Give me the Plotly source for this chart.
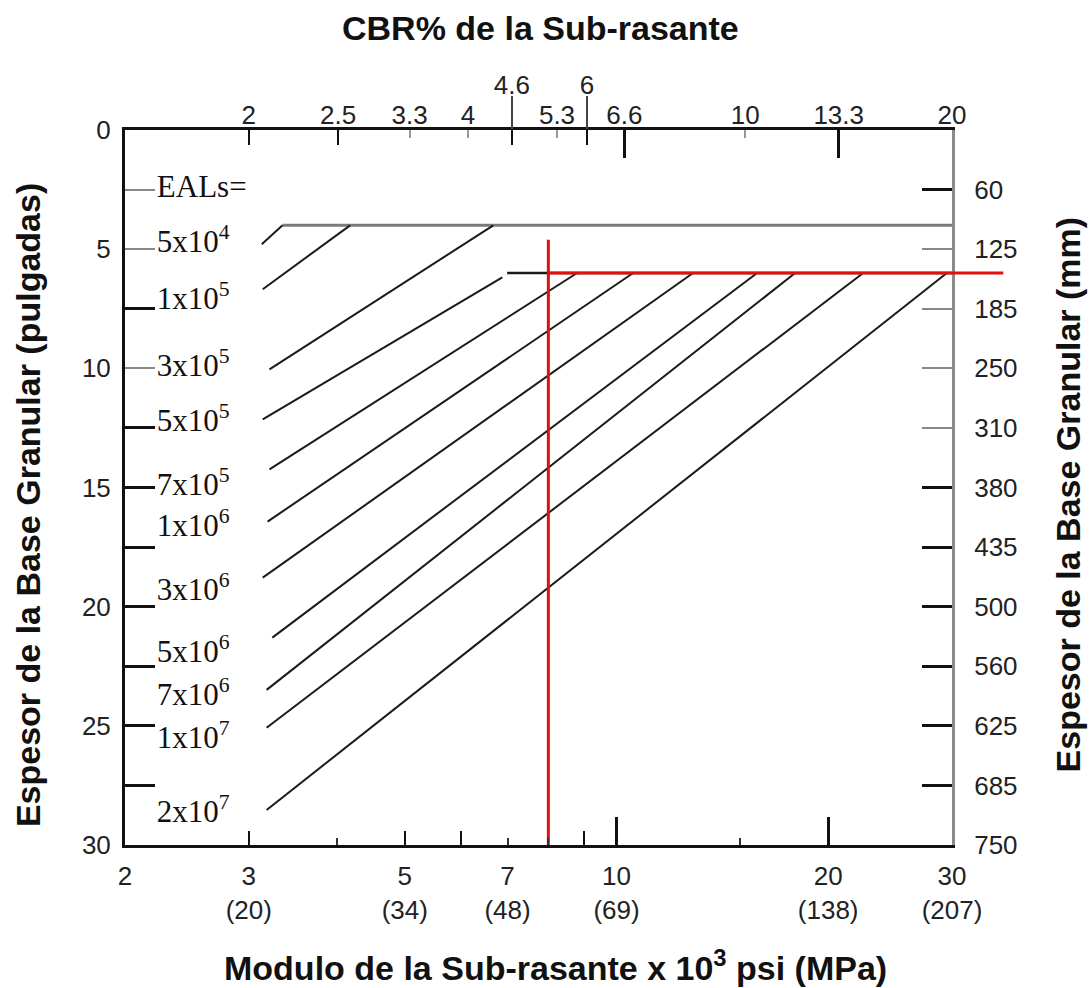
import numpy as np
import plotly.graph_objects as go

# ---------------- data ----------------
eal_labels = ["5x10<sup>4</sup>", "1x10<sup>5</sup>", "3x10<sup>5</sup>", "5x10<sup>5</sup>",
              "7x10<sup>5</sup>", "1x10<sup>6</sup>", "3x10<sup>6</sup>", "5x10<sup>6</sup>",
              "7x10<sup>6</sup>", "1x10<sup>7</sup>", "2x10<sup>7</sup>"]
eal_label_y = [4.8, 7.2, 10.0, 12.3, 15.0, 16.7, 19.4, 22.0, 23.8, 25.6, 28.7]
eal_header = "EALs="
eal_header_y = 2.5
label_x = 2.22

# line end points: subgrade modulus (x10^3 psi), base thickness (in)
line_x_start = [3.13, 3.14, 3.21, 3.14, 3.21, 3.19, 3.14, 3.24, 3.18, 3.18, 3.18]
line_y_start = [4.79, 6.68, 10.04, 12.14, 14.24, 16.43, 18.78, 21.30, 23.49, 25.08, 28.53]
line_x_end = [3.35, 4.18, 6.68, 6.88, 8.79, 10.56, 12.85, 15.85, 17.95, 22.43, 29.5]
line_y_end = [4.0, 4.0, 4.0, 6.18, 6.0, 6.0, 6.0, 6.0, 6.0, 6.0, 6.0]

# minimum-thickness caps
cap4_x = [3.35, 30]
cap4_y = [4.0, 4.0]
cap6_x = [6.99, 30]
cap6_y = [6.0, 6.0]

# design example (red)
design_mr = 8.0
design_top = 4.6
design_thk = 6.0

# bottom axis (modulus)
bottom_vals = [2, 3, 5, 7, 10, 20, 30]
bottom_text = ["2", "3<br>(20)", "5<br>(34)", "7<br>(48)", "10<br>(69)", "20<br>(138)", "30<br>(207)"]
bottom_med_ticks = [3, 5, 6, 9]
bottom_short_ticks = [4, 7, 8, 15]
bottom_long_ticks = [10, 20]

# top axis (CBR %), positions on the modulus scale
cbr_pos = [3.0, 4.02, 5.08, 6.15, 8.23, 10.26, 15.24, 20.7, 30]
cbr_text = ["2", "2.5", "3.3", "4", "5.3", "6.6", "10", "13.3", "20"]
cbr_high_pos = [7.10, 9.08]
cbr_high_text = ["4.6", "6"]
top_med_ticks = [3.0, 4.02, 7.10, 9.08]
top_short_ticks = [5.08, 6.15, 8.23, 15.24]
top_long_ticks = [10.26, 20.7]

# left axis (inches)
left_vals = [0, 5, 10, 15, 20, 25, 30]
left_text = ["0", "5", "10", "15", "20", "25", "30"]
left_black_ticks = [7.5, 12.5, 15, 17.5, 20, 22.5, 25, 27.5]
left_grey_ticks = [2.5, 5, 10]

# right axis (mm)
right_vals = [2.5, 5, 7.5, 10, 12.5, 15, 17.5, 20, 22.5, 25, 27.5, 30]
right_text = ["60", "125", "185", "250", "310", "380", "435", "500", "560", "625", "685", "750"]
right_black_ticks = [2.5, 15, 17.5, 20, 22.5, 25, 27.5]
right_grey_ticks = [5, 7.5, 10, 12.5]

# ---------------- figure ----------------
XR = [np.log10(2), np.log10(30)]
YR = [30, 0]
TICKFONT = dict(family="Liberation Sans, Arial, sans-serif", size=26, color="#222")
TITLEFONT = dict(family="Liberation Sans, Arial, sans-serif", size=34, color="#111")
SERIF = dict(family="Liberation Serif, Times New Roman, serif", size=31, color="#111")

fig = go.Figure()

fig.add_trace(go.Scatter(x=cap4_x, y=cap4_y, mode="lines",
                         line=dict(color="#7a7a7a", width=3), hoverinfo="skip", showlegend=False))
fig.add_trace(go.Scatter(x=cap6_x, y=cap6_y, mode="lines",
                         line=dict(color="#1a1a1a", width=2.5), hoverinfo="skip", showlegend=False))

for i in range(len(eal_labels)):
    fig.add_trace(go.Scatter(x=[line_x_start[i], line_x_end[i]], y=[line_y_start[i], line_y_end[i]],
                             mode="lines", line=dict(color="#1a1a1a", width=2),
                             hoverinfo="skip", showlegend=False))

fig.add_trace(go.Scatter(x=[label_x] * (len(eal_labels) + 1), y=[eal_header_y] + eal_label_y,
                         text=[eal_header] + eal_labels, mode="text", textposition="middle right",
                         textfont=SERIF, cliponaxis=False, hoverinfo="skip", showlegend=False))

# red design lines
fig.add_trace(go.Scatter(x=[design_mr, design_mr], y=[design_top, 30], mode="lines",
                         line=dict(color="#e01010", width=3), hoverinfo="skip", showlegend=False))
fig.add_trace(go.Scatter(x=[design_mr, 30], y=[design_thk, design_thk], mode="lines",
                         line=dict(color="#e01010", width=3), hoverinfo="skip", showlegend=False))
fig.add_shape(type="line", xref="paper", yref="y", x0=1.0, x1=1.062, y0=design_thk, y1=design_thk,
              line=dict(color="#e01010", width=3), layer="above")

# invisible anchor traces so that every overlaying axis is drawn
for xa, ya in [("x2", "y"), ("x3", "y"), ("x4", "y"), ("x5", "y"), ("x6", "y"), ("x7", "y"),
               ("x", "y2"), ("x", "y3"), ("x", "y4")]:
    fig.add_trace(go.Scatter(x=[2, 30], y=[0, 30], xaxis=xa, yaxis=ya, mode="markers",
                             marker=dict(opacity=0, size=1), hoverinfo="skip", showlegend=False))

base_x = dict(type="log", range=XR, showgrid=False, zeroline=False, automargin=False,
              fixedrange=True)
base_y = dict(range=YR, showgrid=False, zeroline=False, automargin=False, fixedrange=True)

fig.update_layout(
    width=1091, height=988, template="none",
    paper_bgcolor="white", plot_bgcolor="white",
    margin=dict(l=125, r=139, t=130, b=143),
    showlegend=False,
    xaxis=dict(**base_x, side="bottom", tickmode="array", tickvals=bottom_vals, ticktext=bottom_text,
               ticks="", showline=True, linecolor="#111", linewidth=3, tickfont=TICKFONT,
               ticklabelstandoff=6),
    xaxis2=dict(**base_x, overlaying="x", side="top", anchor="y", tickmode="array", tickvals=cbr_pos,
                ticktext=cbr_text, ticks="", showline=True, linecolor="#111", linewidth=3,
                tickfont=TICKFONT, ticklabelstandoff=-7),
    xaxis3=dict(**base_x, overlaying="x", side="top", anchor="y", tickmode="array",
                tickvals=top_med_ticks, ticks="inside", ticklen=15, tickwidth=2, tickcolor="#111",
                showticklabels=False, showline=False,
                minor=dict(tickmode="array", tickvals=top_short_ticks, ticks="inside", ticklen=8,
                           tickwidth=1.5, tickcolor="#999")),
    xaxis4=dict(**base_x, overlaying="x", side="top", anchor="y", tickmode="array",
                tickvals=top_long_ticks, ticks="inside", ticklen=28, tickwidth=2.5, tickcolor="#111",
                showticklabels=False, showline=False),
    xaxis5=dict(**base_x, overlaying="x", side="top", anchor="y", tickmode="array",
                tickvals=cbr_high_pos, ticktext=cbr_high_text, ticks="outside", ticklen=33,
                tickwidth=1.5, tickcolor="#444", tickfont=TICKFONT, showline=False,
                ticklabelstandoff=-8),
    xaxis6=dict(**base_x, overlaying="x", side="bottom", anchor="y", tickmode="array",
                tickvals=bottom_med_ticks, ticks="inside", ticklen=14, tickwidth=2, tickcolor="#111",
                showticklabels=False, showline=False,
                minor=dict(tickmode="array", tickvals=bottom_short_ticks, ticks="inside", ticklen=7,
                           tickwidth=2, tickcolor="#333")),
    xaxis7=dict(**base_x, overlaying="x", side="bottom", anchor="y", tickmode="array",
                tickvals=bottom_long_ticks, ticks="inside", ticklen=28, tickwidth=2.5, tickcolor="#111",
                showticklabels=False, showline=False),
    yaxis=dict(**base_y, side="left", tickmode="array", tickvals=left_vals, ticktext=left_text,
               ticks="", showline=True, linecolor="#111", linewidth=3, tickfont=TICKFONT,
               ticklabelstandoff=6),
    yaxis2=dict(**base_y, overlaying="y", side="right", anchor="x", tickmode="array",
                tickvals=right_vals, ticktext=right_text, ticks="", showline=True, linecolor="#8a8a8a",
                linewidth=3, tickfont=TICKFONT, ticklabelstandoff=14),
    yaxis3=dict(**base_y, overlaying="y", side="left", anchor="x", tickmode="array",
                tickvals=left_black_ticks, ticks="inside", ticklen=30, tickwidth=2.5, tickcolor="#111",
                showticklabels=False, showline=False,
                minor=dict(tickmode="array", tickvals=left_grey_ticks, ticks="inside", ticklen=30,
                           tickwidth=1.5, tickcolor="#888")),
    yaxis4=dict(**base_y, overlaying="y", side="right", anchor="x", tickmode="array",
                tickvals=right_black_ticks, ticks="inside", ticklen=30, tickwidth=2.5, tickcolor="#111",
                showticklabels=False, showline=False,
                minor=dict(tickmode="array", tickvals=right_grey_ticks, ticks="inside", ticklen=30,
                           tickwidth=1.5, tickcolor="#888")),
)

# axis titles
fig.add_annotation(text="<b>CBR% de la Sub-rasante</b>", xref="paper", yref="paper", x=0.502, y=1.143,
                   showarrow=False, font=TITLEFONT, xanchor="center", yanchor="middle")
fig.add_annotation(text="<b>Modulo de la Sub-rasante x 10<sup>3</sup> psi (MPa)</b>", xref="paper",
                   yref="paper", x=0.52, y=-0.168, showarrow=False, font=TITLEFONT,
                   xanchor="center", yanchor="middle")
fig.add_annotation(text="<b>Espesor de la Base Granular (pulgadas)</b>", xref="paper", yref="paper",
                   x=-0.118, y=0.476, textangle=-90, showarrow=False, font=TITLEFONT,
                   xanchor="center", yanchor="middle")
fig.add_annotation(text="<b>Espesor de la Base Granular (mm)</b>", xref="paper", yref="paper",
                   x=1.14, y=0.49, textangle=-90, showarrow=False, font=TITLEFONT,
                   xanchor="center", yanchor="middle")

fig.write_html("out.html")
